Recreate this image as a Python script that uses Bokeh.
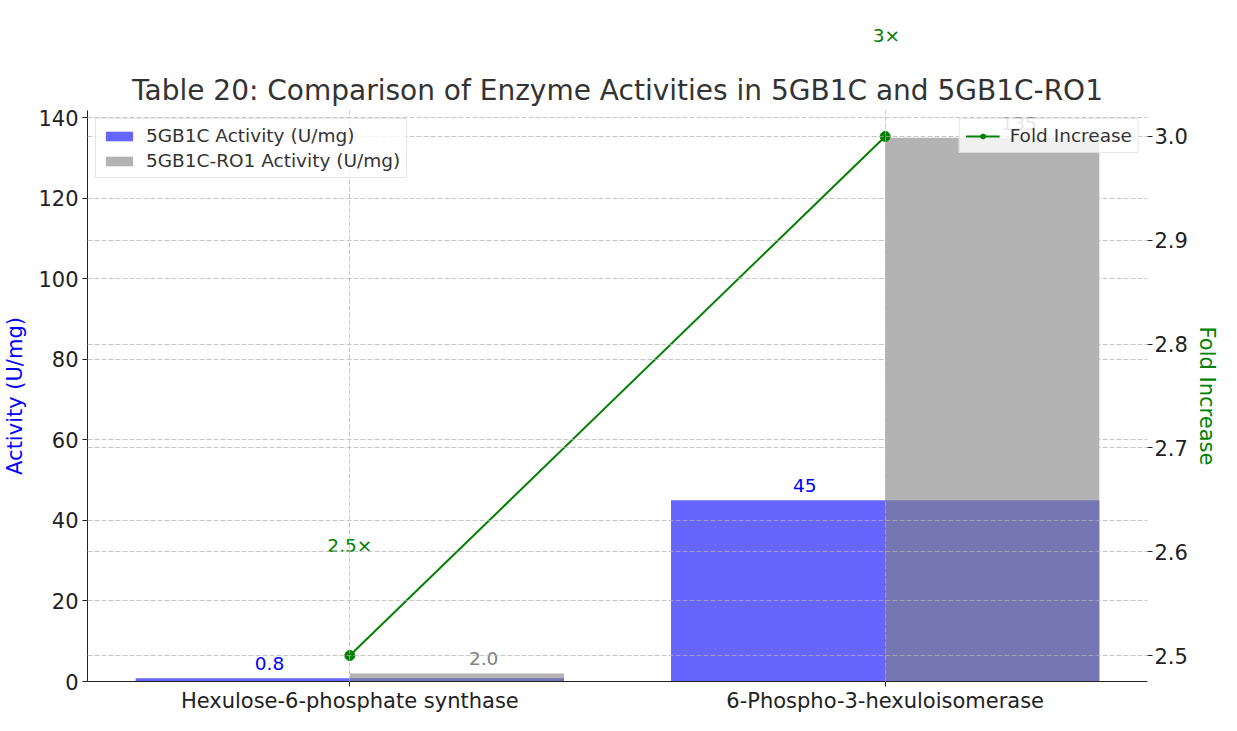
import numpy as np
from bokeh.plotting import figure
from bokeh.models import (Range1d, LinearAxis, FixedTicker, Grid, ColumnDataSource,
                          LabelSet, Legend, LegendItem, PrintfTickFormatter, Title)
from bokeh.core.properties import value
from bokeh.embed import file_html
from bokeh.resources import INLINE

# ---- data ----
categories = ["Hexulose-6-phosphate synthase", "6-Phospho-3-hexuloisomerase"]
activity_5gb1c = [0.8, 45]
activity_ro1 = [2.0, 135]
fold_increase = [2.5, 3.0]
fold_labels = ["2.5\u00d7", "3\u00d7"]
left_ticks = [0, 20, 40, 60, 80, 100, 120, 140]
right_ticks = [2.5, 2.6, 2.7, 2.8, 2.9, 3.0]
title_text = "Table 20: Comparison of Enzyme Activities in 5GB1C and 5GB1C-RO1"

FONT = "DejaVu Sans"
x = np.arange(len(categories), dtype=float)
v1 = np.array(activity_5gb1c, dtype=float)
v2 = np.array(activity_ro1, dtype=float)
fold = np.array(fold_increase, dtype=float)

ymax = max(v2.max(), v1.max()) * 1.05
fspan = fold.max() - fold.min()
f_lo, f_hi = fold.min() - 0.05 * fspan, fold.max() + 0.05 * fspan
x_lo, x_hi = -0.49, 1.49

p = figure(width=1221, height=715, output_backend="svg", toolbar_location=None,
           x_range=Range1d(x_lo, x_hi), y_range=Range1d(0, ymax),
           min_border_left=80, min_border_right=0, min_border_top=108, min_border_bottom=0)
p.title = None
p.extra_y_ranges = {"fold": Range1d(f_lo, f_hi)}
p.outline_line_color = None
p.background_fill_color = "white"

# main title (closest to the plot)
p.add_layout(Title(text=title_text, align="center", text_font=FONT, text_font_size="28px",
                   text_font_style="normal", text_color="#333333", standoff=8), "above")

GRID_COLOR = "#b0b0b0"
p.xgrid.ticker = FixedTicker(ticks=list(x))
p.ygrid.ticker = FixedTicker(ticks=left_ticks)
for g in (p.xgrid[0], p.ygrid[0]):
    g.grid_line_color = GRID_COLOR
    g.grid_line_alpha = 0.7
    g.grid_line_dash = "5 2"
    g.grid_line_width = 1
    g.level = "overlay"
rgrid = Grid(dimension=1, ticker=FixedTicker(ticks=right_ticks), y_range_name="fold",
             grid_line_color=GRID_COLOR, grid_line_alpha=0.7, grid_line_dash="5 2",
             grid_line_width=1, level="overlay")
p.add_layout(rgrid)

# bars
b1 = p.vbar(x=x, top=v1, width=0.8, fill_color="blue", fill_alpha=0.6, line_color=None)
b2 = p.vbar(x=x + 0.2, top=v2, width=0.4, fill_color="gray", fill_alpha=0.6, line_color=None)

# fold line
ln = p.line(x=x, y=fold, line_color="green", line_width=2, y_range_name="fold")
sc = p.scatter(x=x, y=fold, size=10, fill_color="green", line_color="green", y_range_name="fold")

# value labels
def fmt(v):
    return f"{v:g}" if v >= 10 else f"{v:.1f}"

src1 = ColumnDataSource(dict(x=x - 0.15, y=v1 + 2, t=[fmt(v) for v in v1]))
src2 = ColumnDataSource(dict(x=x + 0.25, y=v2 + 2, t=[fmt(v) for v in v2]))
inside = (fold + 0.1) <= f_hi
src3 = ColumnDataSource(dict(x=x[inside], y=(fold + 0.1)[inside],
                             t=[l for l, k in zip(fold_labels, inside) if k]))
p.add_layout(LabelSet(x="x", y="y", text="t", source=src1, text_align="center",
                      text_baseline="alphabetic", text_font=value(FONT),
                      text_font_size=value("18.5px"), text_color="blue"))
p.add_layout(LabelSet(x="x", y="y", text="t", source=src2, text_align="center",
                      text_baseline="alphabetic", text_font=value(FONT),
                      text_font_size=value("18.5px"), text_color="gray"))
p.add_layout(LabelSet(x="x", y="y", text="t", source=src3, text_align="center",
                      text_baseline="alphabetic", text_font=value(FONT),
                      text_font_size=value("18.5px"), text_color="green",
                      y_range_name="fold"))

# fold labels that fall above the plotting area (drawn in the top border)
EST_FRAME_W = 1058
for xi, lab, k in zip(x, fold_labels, inside):
    if not k:
        off = (xi - x_lo) / (x_hi - x_lo) * EST_FRAME_W - 11
        p.add_layout(Title(text=lab, align="left", offset=off, text_font=FONT,
                           text_font_size="18.5px", text_font_style="normal",
                           text_color="green", standoff=44), "above")

# axes
def style_axis(ax):
    ax.major_label_text_font = FONT
    ax.major_label_text_font_size = "21px"
    ax.major_label_text_color = "#222222"
    ax.axis_label_text_font = FONT
    ax.axis_label_text_font_size = "21px"
    ax.axis_label_text_font_style = "normal"
    ax.major_tick_out = 5
    ax.major_tick_in = 0
    ax.minor_tick_out = 0
    ax.minor_tick_in = 0
    ax.axis_line_color = "#222222"
    ax.major_tick_line_color = "#222222"

xa = p.xaxis[0]
style_axis(xa)
xa.ticker = FixedTicker(ticks=list(x))
ov = {}
for i, c in enumerate(categories):
    ov[float(i)] = c
    ov[int(i)] = c
xa.major_label_overrides = ov
xa.major_label_standoff = 2
xa.axis_label = None
xa.axis_label_standoff = 0

ya = p.yaxis[0]
style_axis(ya)
ya.ticker = FixedTicker(ticks=left_ticks)
ya.axis_label = "Activity (U/mg)"
ya.axis_label_text_color = "blue"
ya.major_label_standoff = 4
ya.axis_label_standoff = 8

ra = LinearAxis(y_range_name="fold", ticker=FixedTicker(ticks=right_ticks),
                formatter=PrintfTickFormatter(format="%.1f"))
style_axis(ra)
ra.axis_line_color = None
ra.axis_label = "Fold Increase"
ra.axis_label_text_color = "green"
ra.major_label_standoff = 2
ra.axis_label_standoff = 4
p.add_layout(ra, "right")

# legends
def style_legend(lg):
    lg.label_text_font = FONT
    lg.label_text_font_size = "18.5px"
    lg.label_text_color = "#333333"
    lg.border_line_color = "#cccccc"
    lg.border_line_width = 1
    lg.background_fill_alpha = 0.8
    lg.glyph_width = 34
    lg.glyph_height = 12
    lg.label_height = 20
    lg.spacing = 4
    lg.padding = 6
    lg.margin = 8
    lg.label_standoff = 10

leg1 = Legend(items=[LegendItem(label="5GB1C Activity (U/mg)", renderers=[b1]),
                     LegendItem(label="5GB1C-RO1 Activity (U/mg)", renderers=[b2])],
              location="top_left")
style_legend(leg1)
leg2 = Legend(items=[LegendItem(label="Fold Increase", renderers=[ln, sc])],
              location="top_right")
style_legend(leg2)
p.add_layout(leg1)
p.add_layout(leg2)

open("out.html", "w").write(file_html(p, INLINE))
